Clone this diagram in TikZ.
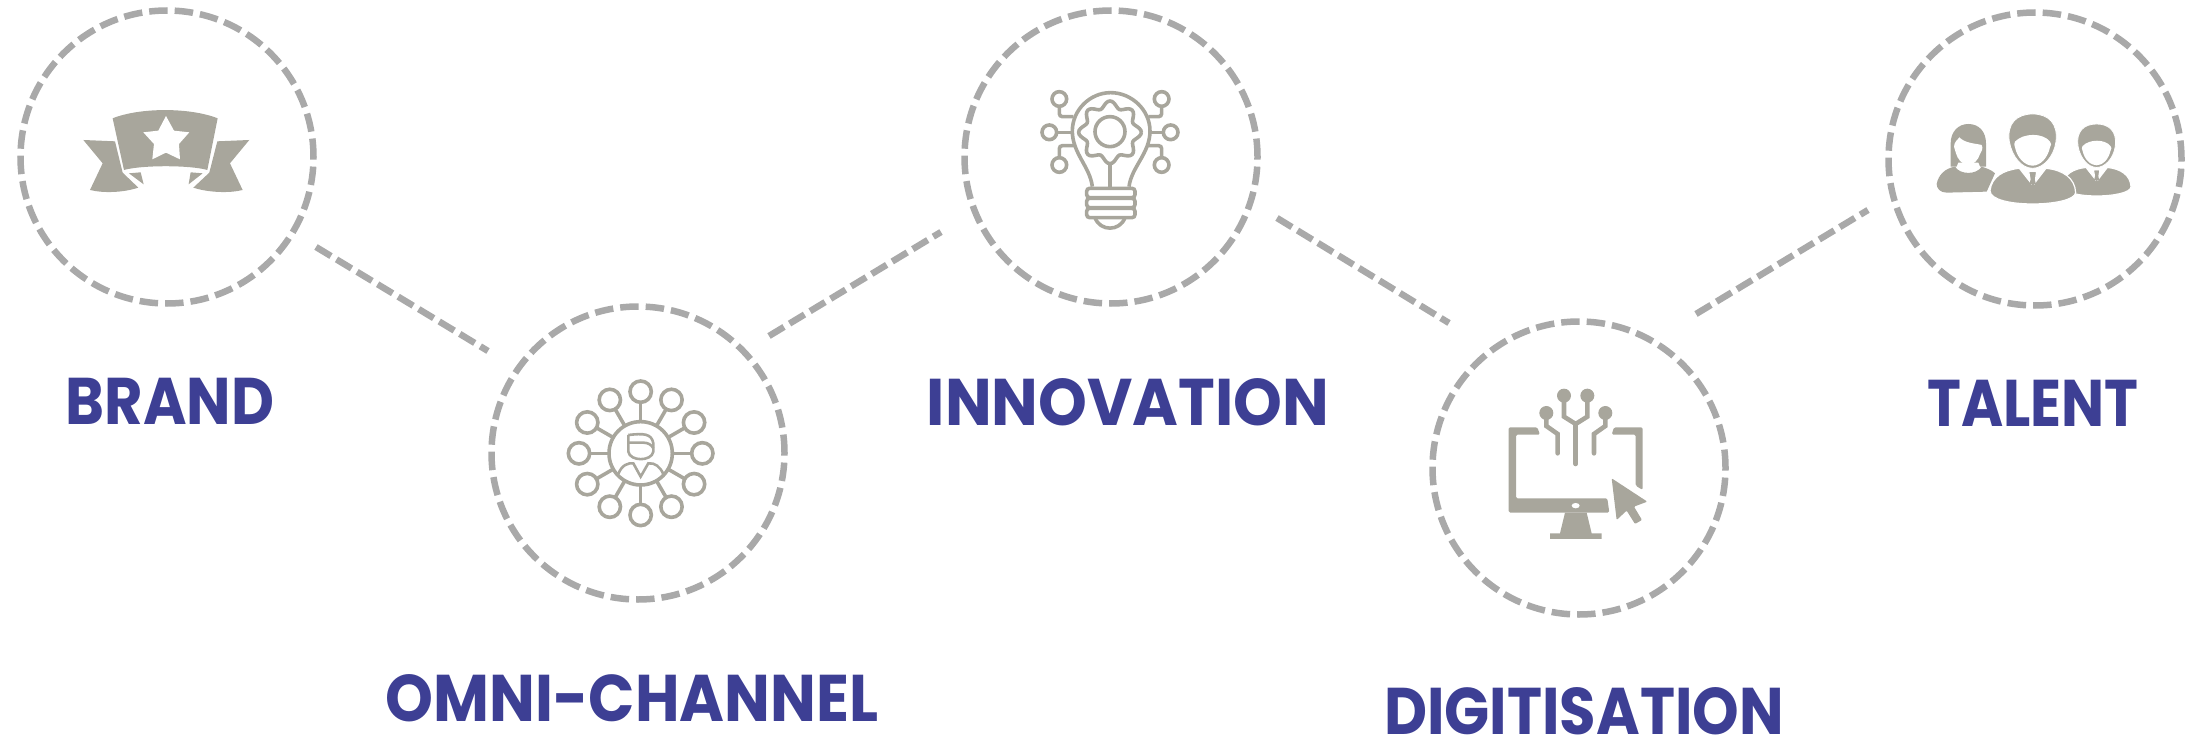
\documentclass[tikz,border=0pt]{standalone}
\usepackage{fontspec}
\setmainfont{Poppins}
\definecolor{ringgray}{HTML}{A9A9A9}
\definecolor{icongray}{HTML}{A8A69C}
\definecolor{labelblue}{HTML}{3D3F94}
\newcommand{\manshape}{%
  \path[iconfill,draw=white,line width=1.2pt] (418,505) -- (452,548) -- (446,515) -- (470,515) -- (465,548) -- (498,505)
    .. controls (550,510) and (585,535) .. (587,578) .. controls (585,600) and (520,612) .. (458,612)
    .. controls (395,612) and (330,600) .. (330,572) .. controls (335,530) and (370,510) .. (418,505) -- cycle;
  \path[iconfill] (450,517) -- (466,517) -- (462,532) -- (468,552) -- (448,552) -- (454,532) -- cycle;
  \path[iconfill,draw=white,line width=.8pt] (388,425) .. controls (380,370) and (410,342) .. (458,342)
    .. controls (505,342) and (535,370) .. (528,425) .. controls (522,470) and (490,505) .. (458,505)
    .. controls (425,505) and (396,470) .. (388,425) -- cycle;
  \path[fill=white] (405,425) .. controls (430,398) and (490,398) .. (510,425) .. controls (515,430) and (514,436) .. (510,442)
    .. controls (503,475) and (480,497) .. (458,497) .. controls (435,497) and (412,475) .. (405,442)
    .. controls (402,436) and (402,430) .. (405,425) -- cycle;
}
\begin{document}
\begin{tikzpicture}
[x=1pt,y=-1pt,%
  ring/.style={shape=circle,draw=ringgray,line width=6.5pt,dash pattern=on 18.5pt off 7pt,minimum size=293pt,inner sep=0pt,outer sep=0pt},%
  link/.style={draw=ringgray,line width=6.5pt,dash pattern=on 17.5pt off 6.5pt},%
  label/.style={text=labelblue,anchor=base,inner sep=0pt,transform shape,font=\fontsize{66}{70}\selectfont\bfseries},%
  zoomed/.style={x=.3333pt,y=-.3333pt},%
  iconfill/.style={fill=icongray},%
  iconline/.style={draw=icongray,line width=3.6pt,fill=none},%
  circuit/.style={draw=icongray,line width=4.6pt,line cap=round,fill=none}]
\useasboundingbox (0,0) rectangle (2196,741);
\node[ring] (brand) at (167,157) {};
\node[ring] (omni) at (638,453) {};
\node[ring] (innov) at (1111,157) {};
\node[ring] (digit) at (1579,468) {};
\node[ring] (talent) at (2035,159) {};
\draw[link] ([shift={(149,90)}]brand.center) -- ([shift={(-150,-102)}]omni.center);
\draw[link] ([shift={(131,-117)}]omni.center) -- ([shift={(-170,75)}]innov.center);
\draw[link] ([shift={(166,61)}]innov.center) -- ([shift={(-130,-145)}]digit.center);
\draw[link] ([shift={(117,-154)}]digit.center) -- ([shift={(-167,51)}]talent.center);
\node[label,xscale=.896] (brandlbl) at (170,424) {BRAND};
\node[label,xscale=.923] (omnilbl) at (632,721) {OMNI-CHANNEL};
\node[label,xscale=.941] (innovlbl) at (1128,425) {INNOVATION};
\node[label,xscale=.898] (digitlbl) at (1584,734) {DIGITISATION};
\node[label,xscale=.868] (talentlbl) at (2033,426) {TALENT};
% ribbon
\begin{scope}[zoomed]
\path[iconfill] (338,355) .. controls (420,322) and (570,322) .. (653,355) -- (622,510) .. controls (570,495) and (425,495) .. (372,510) -- cycle;
\path[fill=white] (498,348) -- (522,392) -- (568,397) -- (537,432) -- (540,478) -- (498,458) -- (457,478) -- (462,432) -- (430,397) -- (475,392) -- cycle;
\path[iconfill] (250,420) -- (345,424) -- (368,518) -- (415,563) .. controls (370,578) and (310,580) .. (270,570) -- (308,490) -- cycle;
\path[iconfill] (748,420) -- (652,424) -- (628,518) -- (580,563) .. controls (625,578) and (690,580) .. (728,570) -- (690,490) -- cycle;
\path[iconfill] (387,520) -- (422,517) -- (431,553) -- cycle;
\path[iconfill] (608,520) -- (572,517) -- (566,553) -- cycle;
\end{scope}
% network
\begin{scope}[shift={(480,320)},zoomed]
\draw[iconline] (482,400) circle (95);
\foreach \a in {0,30,...,330} {
  \draw[iconline] (482,400) ++(\a:95) -- ++(\a:58);
  \draw[iconline] (482,400) ++(\a:185) circle (32);
}
\draw[iconline,line width=2.6pt] (445,345) -- (445,395) .. controls (450,425) and (515,425) .. (520,395) -- (520,370) .. controls (515,340) and (490,340) .. (445,345);
\draw[iconline,line width=2.6pt] (445,368) -- (490,368) .. controls (505,368) and (515,375) .. (520,385);
\draw[iconline,line width=2.6pt] (415,462) .. controls (425,435) and (445,428) .. (460,430) -- (482,470) -- (505,430) .. controls (525,428) and (540,440) .. (550,462);
\end{scope}
% bulb
\begin{scope}[shift={(960,0)},zoomed]
\draw[iconline] (397,560) .. controls (390,500) and (337,460) .. (337,393) .. controls (337,330) and (390,278) .. (452,278) .. controls (515,278) and (570,330) .. (570,393) .. controls (570,460) and (515,500) .. (507,560);
\draw[iconline] (450,395) circle (45);
\draw[iconline] plot[domain=0:360,samples=97,smooth] ({450+(84+10*cos(8*\x))*cos(\x)},{397+(84+10*cos(8*\x))*sin(\x)});
\draw[iconline] (450,490) -- (450,560);
\foreach \p/\q in {380/565,380/595,380/625} {
  \draw[iconline,rounded corners=3pt] (\p,\q) rectangle (525,\q+28);
}
\draw[iconline] (405,653) .. controls (420,695) and (480,695) .. (495,653);
\foreach \p/\q in {298/297,268/397,298/495,605/297,632/397,605/495} {
  \draw[iconline] (\p,\q) circle (22);
}
\draw[iconline,rounded corners=3pt] (298,319) -- (298,350) -- (340,350);
\draw[iconline] (290,397) -- (337,397);
\draw[iconline,rounded corners=3pt] (298,473) -- (298,437) -- (345,437);
\draw[iconline,rounded corners=3pt] (605,319) -- (605,350) -- (565,350);
\draw[iconline] (610,397) -- (570,397);
\draw[iconline,rounded corners=3pt] (605,473) -- (605,437) -- (560,437);
\end{scope}
% monitor
\begin{scope}[shift={(1430,320)},zoomed]
\path[iconfill,rounded corners=1.5pt] (322,322) -- (236,322) -- (236,578) -- (538,578) -- (532,535) -- (258,535) -- (258,344) -- (330,344) -- cycle;
\path[iconfill,rounded corners=1.5pt] (552,322) -- (638,322) -- (638,510) -- (617,497) -- (617,344) -- (545,344) -- cycle;
\path[iconfill] (405,578) -- (470,578) -- (485,640) -- (515,640) -- (515,657) -- (360,657) -- (360,640) -- (390,640) -- cycle;
\path[fill=white] (437,557) ellipse (12 and 8);
\path[iconfill,rounded corners=1pt] (545,475) -- (652,545) -- (612,560) -- (636,600) -- (615,612) -- (590,572) -- (560,600) -- cycle;
\draw[circuit] (437,432) -- (437,312);
\draw[circuit] (402,227) -- (402,290) -- (437,312) -- (472,290) -- (472,227);
\draw[circuit] (349,279) -- (349,318) -- (383,342) -- (383,400);
\draw[circuit] (526,279) -- (526,318) -- (492,342) -- (492,400);
\foreach \p/\q in {402/227,472/227,349/279,526/279} {
  \path[iconfill] (\p,\q) circle (21);
}
\end{scope}
% people
\begin{scope}[shift={(1880,0)},zoomed]
\path[iconfill] (212,500) -- (212,430) .. controls (212,395) and (235,372) .. (265,372) .. controls (297,372) and (318,395) .. (318,430) -- (318,500) -- cycle;
\path[fill=white] (222,440) .. controls (222,425) and (235,418) .. (238,412) .. controls (255,430) and (285,430) .. (305,435) .. controls (310,445) and (305,455) .. (300,462) .. controls (295,480) and (280,495) .. (265,495) .. controls (245,495) and (232,475) .. (228,460) -- cycle;
\path[iconfill] (170,552) .. controls (175,525) and (195,505) .. (225,500) .. controls (240,525) and (290,525) .. (305,500) .. controls (320,505) and (335,510) .. (345,520) -- (320,575) -- (200,578) .. controls (180,578) and (170,565) .. (170,552) -- cycle;
\path[fill=white] (235,488) -- (295,488) -- (300,500) .. controls (285,522) and (245,522) .. (230,500) -- cycle;
\begin{scope}[shift={(650,372)},scale=.8,shift={(-458,-342)}]
\manshape
\end{scope}
\manshape
\end{scope}
\end{tikzpicture}
\end{document}
